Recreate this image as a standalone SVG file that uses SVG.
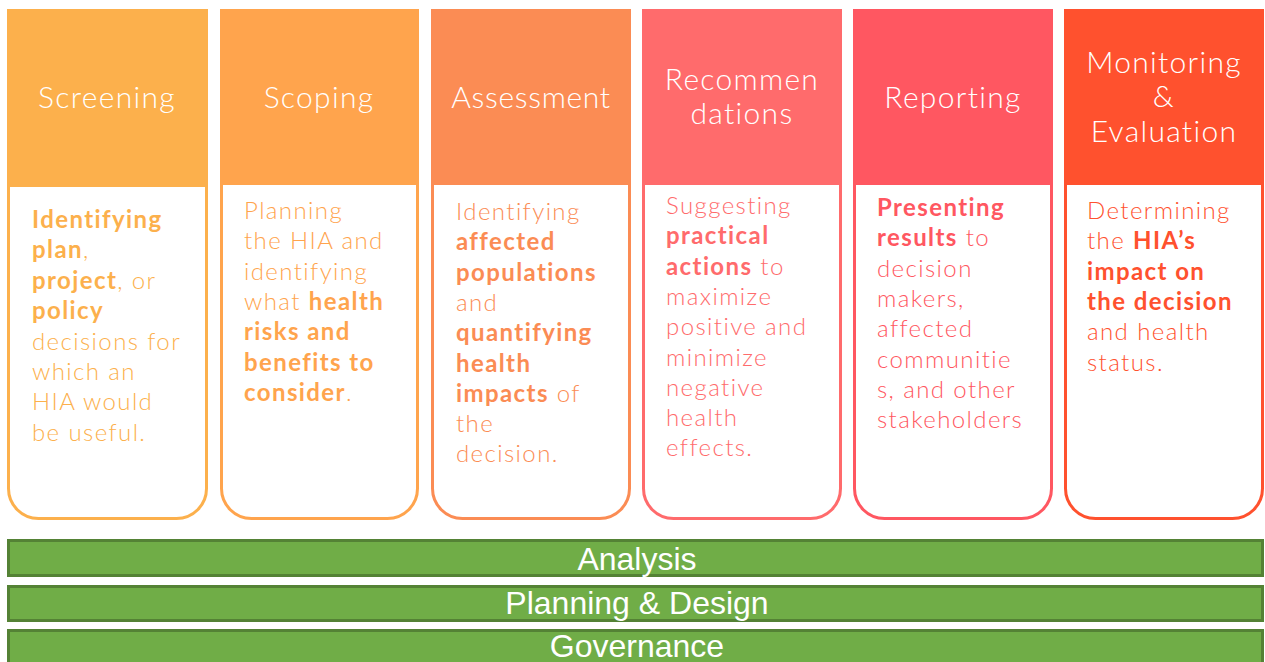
<svg xmlns="http://www.w3.org/2000/svg" width="1265" height="662" viewBox="0 0 1265 662">
<style>
.hd{font-family:Lato,"Noto Sans","DejaVu Sans",sans-serif;font-size:30px;font-weight:300;fill:#fff;text-anchor:middle;letter-spacing:1.3px}
.bd{font-family:Lato,"Noto Sans","DejaVu Sans",sans-serif;font-size:24px;font-weight:300;letter-spacing:1.4px}
.b{font-weight:700}
.bar{fill:#70AD47;stroke:#548235;stroke-width:3}
.bt{font-family:"Liberation Sans",Arial,sans-serif;font-size:32px;fill:#fff;text-anchor:middle}
</style>
<rect width="1265" height="662" fill="#fff"/>

<g id="screening">
<path d="M8.5 150 V488.5 A30 30 0 0 0 38.5 518.5 H176.5 A30 30 0 0 0 206.5 488.5 V150 Z" fill="#fff" stroke="#FCB04C" stroke-width="3"/>
<rect x="7" y="9" width="201" height="178" fill="#FCB04C"/>
<text class="hd" x="107" y="108">Screening</text>
<text class="bd" fill="#FCB04C" x="32">
<tspan x="32" y="228" class="b">Identifying</tspan>
<tspan x="32" y="258.4"><tspan class="b">plan</tspan>,</tspan>
<tspan x="32" y="288.8"><tspan class="b">project</tspan>, or</tspan>
<tspan x="32" y="319.2" class="b">policy</tspan>
<tspan x="32" y="349.6">decisions for</tspan>
<tspan x="32" y="380">which an</tspan>
<tspan x="32" y="410.4">HIA would</tspan>
<tspan x="32" y="440.8">be useful.</tspan>
</text>
</g>

<g id="scoping">
<path d="M221.5 150 V488.5 A30 30 0 0 0 251.5 518.5 H387.5 A30 30 0 0 0 417.5 488.5 V150 Z" fill="#fff" stroke="#FFA44D" stroke-width="3"/>
<rect x="220" y="9" width="199" height="176" fill="#FFA44D"/>
<text class="hd" x="319" y="108">Scoping</text>
<text class="bd" fill="#FFA44D">
<tspan x="244" y="219">Planning</tspan>
<tspan x="244" y="249.3">the HIA and</tspan>
<tspan x="244" y="279.6">identifying</tspan>
<tspan x="244" y="309.9">what <tspan class="b">health</tspan></tspan>
<tspan x="244" y="340.2" class="b">risks and</tspan>
<tspan x="244" y="370.5" class="b">benefits to</tspan>
<tspan x="244" y="400.8"><tspan class="b">consider</tspan>.</tspan>
</text>
</g>

<g id="assessment">
<path d="M432.5 150 V488.5 A30 30 0 0 0 462.5 518.5 H599.5 A30 30 0 0 0 629.5 488.5 V150 Z" fill="#fff" stroke="#FB8C54" stroke-width="3"/>
<rect x="431" y="9" width="200" height="176" fill="#FB8C54"/>
<text class="hd" x="531" y="108" style="letter-spacing:0.7px">Assessment</text>
<text class="bd" fill="#FB8C54">
<tspan x="456" y="220">Identifying</tspan>
<tspan x="456" y="250.3" class="b">affected</tspan>
<tspan x="456" y="280.6" class="b">populations</tspan>
<tspan x="456" y="310.9">and</tspan>
<tspan x="456" y="341.2" class="b">quantifying</tspan>
<tspan x="456" y="371.5" class="b">health</tspan>
<tspan x="456" y="401.8"><tspan class="b">impacts</tspan> of</tspan>
<tspan x="456" y="432.1">the</tspan>
<tspan x="456" y="462.4">decision.</tspan>
</text>
</g>

<g id="recommendations">
<path d="M643.5 150 V488.5 A30 30 0 0 0 673.5 518.5 H810.5 A30 30 0 0 0 840.5 488.5 V150 Z" fill="#fff" stroke="#FF6B6C" stroke-width="3"/>
<rect x="642" y="9" width="200" height="176" fill="#FF6B6C"/>
<text class="hd" x="742" y="90">Recommen</text>
<text class="hd" x="742" y="124">dations</text>
<text class="bd" fill="#FF6B6C">
<tspan x="666" y="214">Suggesting</tspan>
<tspan x="666" y="244.3" class="b">practical</tspan>
<tspan x="666" y="274.6"><tspan class="b">actions</tspan> to</tspan>
<tspan x="666" y="304.9">maximize</tspan>
<tspan x="666" y="335.2">positive and</tspan>
<tspan x="666" y="365.5">minimize</tspan>
<tspan x="666" y="395.8">negative</tspan>
<tspan x="666" y="426.1">health</tspan>
<tspan x="666" y="456.4">effects.</tspan>
</text>
</g>

<g id="reporting">
<path d="M854.5 150 V488.5 A30 30 0 0 0 884.5 518.5 H1021.5 A30 30 0 0 0 1051.5 488.5 V150 Z" fill="#fff" stroke="#FF5761" stroke-width="3"/>
<rect x="853" y="9" width="200" height="176" fill="#FF5761"/>
<text class="hd" x="953" y="108">Reporting</text>
<text class="bd" fill="#FF5761">
<tspan x="877" y="216" class="b">Presenting</tspan>
<tspan x="877" y="246.3"><tspan class="b">results</tspan> to</tspan>
<tspan x="877" y="276.6">decision</tspan>
<tspan x="877" y="306.9">makers,</tspan>
<tspan x="877" y="337.2">affected</tspan>
<tspan x="877" y="367.5">communitie</tspan>
<tspan x="877" y="397.8">s, and other</tspan>
<tspan x="877" y="428.1">stakeholders</tspan>
</text>
</g>

<g id="monitoring">
<path d="M1065.5 150 V488.5 A30 30 0 0 0 1095.5 518.5 H1232.5 A30 30 0 0 0 1262.5 488.5 V150 Z" fill="#fff" stroke="#FF512E" stroke-width="3"/>
<rect x="1064" y="9" width="200" height="176" fill="#FF512E"/>
<text class="hd" x="1164" y="73">Monitoring</text>
<text class="hd" x="1164" y="107">&amp;</text>
<text class="hd" x="1164" y="142">Evaluation</text>
<text class="bd" fill="#FF512E">
<tspan x="1087" y="219">Determining</tspan>
<tspan x="1087" y="249.3">the <tspan class="b">HIA’s</tspan></tspan>
<tspan x="1087" y="279.6" class="b">impact on</tspan>
<tspan x="1087" y="309.9" class="b">the decision</tspan>
<tspan x="1087" y="340.2">and health</tspan>
<tspan x="1087" y="370.5">status.</tspan>
</text>
</g>

<g id="analysis">
<rect class="bar" x="8.5" y="540.5" width="1254" height="35"/>
<text class="bt" x="637" y="570">Analysis</text>
</g>
<g id="planning-design">
<rect class="bar" x="8.5" y="586.5" width="1254" height="34"/>
<text class="bt" x="637" y="614">Planning &amp; Design</text>
</g>
<g id="governance">
<rect class="bar" x="8.5" y="630.5" width="1254" height="40"/>
<text class="bt" x="637" y="657">Governance</text>
</g>
<g id="connectors"/>
</svg>
